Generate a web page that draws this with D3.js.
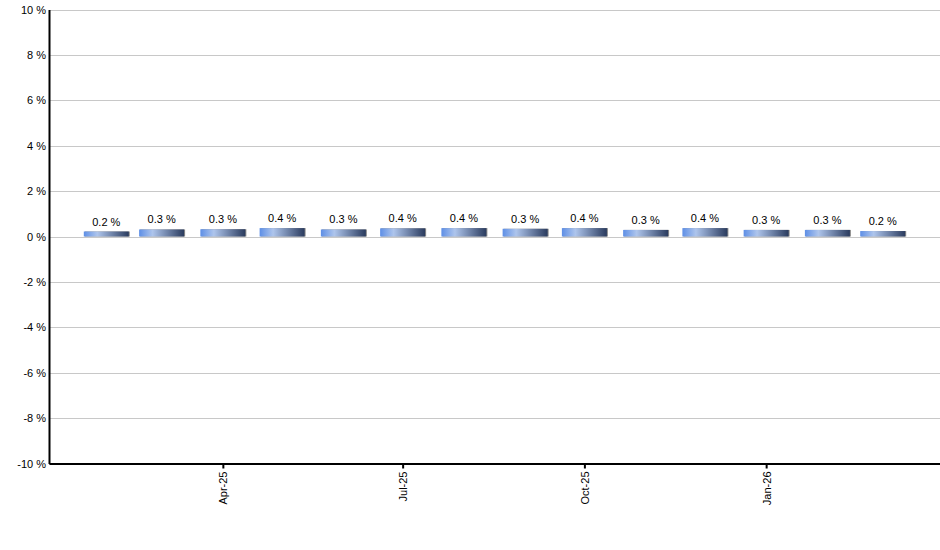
<!DOCTYPE html>
<html>
<head>
<meta charset="utf-8">
<script src="https://cdn.jsdelivr.net/npm/d3@7"></script>
<style>
  body { margin: 0; background: #fff; }
  text { font-family: "Liberation Sans", Arial, sans-serif; }
</style>
</head>
<body>
<div id="chart"></div>
<script>
// monthly values (percent)
const months = ['2025-02', '2025-03', '2025-04', '2025-05', '2025-06', '2025-07', '2025-08',
    '2025-09', '2025-10', '2025-11', '2025-12', '2026-01', '2026-02', '2026-03'];
const values = [0.22, 0.31, 0.32, 0.37, 0.31, 0.36, 0.37, 0.34, 0.37, 0.29, 0.37, 0.29, 0.29, 0.24];
const yTicks = [-10, -8, -6, -4, -2, 0, 2, 4, 6, 8, 10];
const xTicks = ['2025-04', '2025-07', '2025-10', '2026-01'];

const width = 940, height = 550;
const margin = { top: 9, right: 0, bottom: 86, left: 49 };

const parse = d3.timeParse('%Y-%m');
const data = months.map((m, i) => ({ date: parse(m), value: values[i] }));

const svg = d3.select('#chart')
    .append('svg')
    .attr('width', width)
    .attr('height', height);

// Gradient for bars
const grad = svg.append('defs').append('linearGradient')
    .attr('id', 'barGrad')
    .attr('x1', '0%').attr('x2', '100%')
    .attr('y1', '0%').attr('y2', '0%');
grad.append('stop').attr('offset', '0%').attr('stop-color', '#5e8fe6');
grad.append('stop').attr('offset', '30%').attr('stop-color', '#aec5ec');
grad.append('stop').attr('offset', '100%').attr('stop-color', '#2a3b5e');

// Scales
const x = d3.scaleTime()
    .domain([new Date(2025, 0, 3), new Date(2026, 2, 30)])
    .range([margin.left, width - margin.right]);

const y = d3.scaleLinear()
    .domain([-10, 10])
    .range([height - margin.bottom - 0.5, margin.top + 0.5]);

// Gridlines
svg.append('g')
    .selectAll('line')
    .data(yTicks)
    .enter()
    .append('line')
    .attr('x1', margin.left)
    .attr('x2', width)
    .attr('y1', d => Math.round(y(d)) + 0.5)
    .attr('y2', d => Math.round(y(d)) + 0.5)
    .attr('stroke', '#c8c8c8')
    .attr('stroke-width', 1);

// Bars
const barW = 45;
const bars = svg.append('g');

bars.selectAll('rect.shadow')
    .data(data)
    .enter()
    .append('rect')
    .attr('class', 'shadow')
    .attr('x', d => x(d.date) - barW / 2 + 1)
    .attr('y', d => y(d.value))
    .attr('width', barW)
    .attr('height', d => y(0) - y(d.value))
    .attr('fill', '#8a8a8a');

bars.selectAll('rect.bar')
    .data(data)
    .enter()
    .append('rect')
    .attr('class', 'bar')
    .attr('x', d => x(d.date) - barW / 2)
    .attr('y', d => y(d.value))
    .attr('width', barW)
    .attr('height', d => y(0) - y(d.value))
    .attr('fill', 'url(#barGrad)');

// Value labels
bars.selectAll('text')
    .data(data)
    .enter()
    .append('text')
    .attr('x', d => x(d.date))
    .attr('y', d => y(d.value) - 6)
    .attr('text-anchor', 'middle')
    .attr('font-size', 11)
    .attr('fill', '#000')
    .text(d => `${d3.format('.1f')(d.value)} %`);

// Y axis
const yAxis = svg.append('g')
    .attr('transform', `translate(${margin.left},0)`)
    .call(d3.axisLeft(y)
        .tickValues(yTicks)
        .tickSize(0)
        .tickPadding(3)
        .tickFormat(d => `${d} %`));
yAxis.select('.domain').attr('stroke', '#000').attr('stroke-width', 2);
yAxis.selectAll('text').attr('font-size', 11).attr('fill', '#000').attr('font-family', '"Liberation Sans", Arial, sans-serif');

// X axis
const xAxis = svg.append('g')
    .attr('transform', `translate(0,${y(-10)})`)
    .call(d3.axisBottom(x)
        .tickValues(xTicks.map(parse))
        .tickSize(5)
        .tickSizeOuter(0)
        .tickFormat(d3.timeFormat('%b-%y')));
xAxis.select('.domain').attr('stroke', '#000').attr('stroke-width', 2);
xAxis.selectAll('.tick line').attr('stroke', '#000').attr('stroke-width', 2);
xAxis.selectAll('text')
    .attr('font-size', 11)
    .attr('fill', '#000')
    .attr('font-family', '"Liberation Sans", Arial, sans-serif')
    .attr('transform', 'rotate(-90)')
    .attr('text-anchor', 'end')
    .attr('dy', '0.35em')
    .attr('x', -8)
    .attr('y', 0);
</script>
</body>
</html>
